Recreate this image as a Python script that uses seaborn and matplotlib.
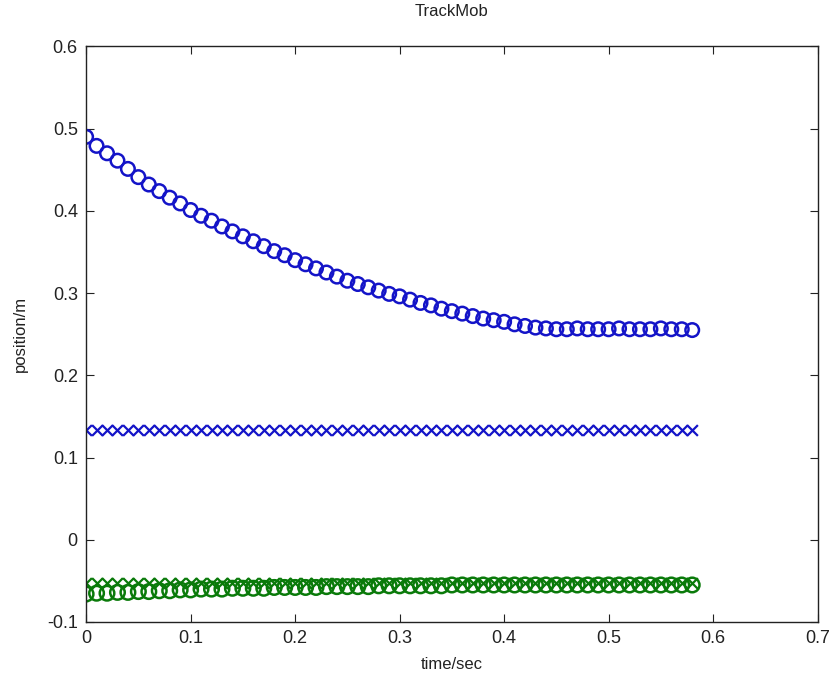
import matplotlib
matplotlib.use("Agg")
import matplotlib.pyplot as plt
import pandas as pd
import seaborn as sns

# time stamps of the tracked frames (sec)
t = [0.00, 0.01, 0.02, 0.03, 0.04, 0.05, 0.06, 0.07, 0.08, 0.09,
     0.10, 0.11, 0.12, 0.13, 0.14, 0.15, 0.16, 0.17, 0.18, 0.19,
     0.20, 0.21, 0.22, 0.23, 0.24, 0.25, 0.26, 0.27, 0.28, 0.29,
     0.30, 0.31, 0.32, 0.33, 0.34, 0.35, 0.36, 0.37, 0.38, 0.39,
     0.40, 0.41, 0.42, 0.43, 0.44, 0.45, 0.46, 0.47, 0.48, 0.49,
     0.50, 0.51, 0.52, 0.53, 0.54, 0.55, 0.56, 0.57, 0.58]

# blue circles: falling position
blue_o = [0.490, 0.479, 0.470, 0.461, 0.451, 0.441, 0.432, 0.424, 0.416, 0.409,
          0.401, 0.394, 0.388, 0.381, 0.375, 0.369, 0.363, 0.357, 0.351, 0.346,
          0.340, 0.335, 0.330, 0.325, 0.320, 0.315, 0.311, 0.307, 0.303, 0.299,
          0.296, 0.292, 0.288, 0.285, 0.281, 0.278, 0.275, 0.272, 0.269, 0.267,
          0.265, 0.262, 0.260, 0.258, 0.257, 0.256, 0.256, 0.257, 0.256, 0.256,
          0.256, 0.257, 0.256, 0.256, 0.256, 0.257, 0.256, 0.256, 0.255]

# blue crosses: constant
blue_x = [0.133] * len(t)

# green circles: slowly rising
green_o = [-0.066, -0.065, -0.065, -0.064, -0.064, -0.063, -0.063, -0.062, -0.062, -0.061,
           -0.061, -0.060, -0.060, -0.060, -0.059, -0.059, -0.059, -0.059, -0.058, -0.058,
           -0.058, -0.058, -0.058, -0.057, -0.057, -0.057, -0.057, -0.057, -0.056, -0.056,
           -0.056, -0.056, -0.056, -0.056, -0.056, -0.055, -0.055, -0.055, -0.055, -0.055,
           -0.055, -0.055, -0.055, -0.055, -0.055, -0.055, -0.055, -0.055, -0.055, -0.055,
           -0.055, -0.055, -0.055, -0.055, -0.055, -0.055, -0.055, -0.055, -0.055]

# green crosses: constant
green_x = [-0.053] * len(t)

xticks = [0, 0.1, 0.2, 0.3, 0.4, 0.5, 0.6, 0.7]
xticklabels = ["0", "0.1", "0.2", "0.3", "0.4", "0.5", "0.6", "0.7"]
yticks = [-0.1, 0, 0.1, 0.2, 0.3, 0.4, 0.5, 0.6]
yticklabels = ["-0.1", "0", "0.1", "0.2", "0.3", "0.4", "0.5", "0.6"]

df = pd.DataFrame({"t": t, "blue_o": blue_o, "blue_x": blue_x,
                   "green_o": green_o, "green_x": green_x})

sns.set_style("ticks")
plt.rcParams["font.family"] = ["Liberation Sans", "DejaVu Sans"]

fig = plt.figure(figsize=(8.36, 6.82), dpi=100)
ax = fig.add_axes([0.103, 0.088, 0.875, 0.844])

blue = "#1414c8"
green = "#0a7a0a"

sns.scatterplot(data=df, x="t", y="blue_x", marker="x", s=60, color=blue,
                linewidth=1.6, ax=ax)
sns.scatterplot(data=df, x="t", y="green_x", marker="x", s=60, color=green,
                linewidth=1.6, ax=ax)
sns.scatterplot(data=df, x="t", y="blue_o", marker="o", s=95, facecolor="none",
                edgecolor=blue, linewidth=1.8, ax=ax)
sns.scatterplot(data=df, x="t", y="green_o", marker="o", s=110, facecolor="none",
                edgecolor=green, linewidth=1.8, ax=ax)

ax.set_xlim(0, 0.7)
ax.set_ylim(-0.1, 0.6)
ax.set_xticks(xticks)
ax.set_xticklabels(xticklabels)
ax.set_yticks(yticks)
ax.set_yticklabels(yticklabels)
ax.tick_params(direction="in", top=True, right=True, labelsize=13, length=6,
               width=0.8, pad=6, colors="#222222")
for sp in ax.spines.values():
    sp.set_visible(True)
    sp.set_linewidth(1.0)
    sp.set_color("#222222")

ax.set_title("TrackMob", fontsize=12, pad=22, color="#222222")
ax.set_xlabel("time/sec", fontsize=12, labelpad=7, color="#222222")
ax.set_ylabel("position/m", fontsize=12, labelpad=14, color="#222222")

fig.savefig("out.png", dpi=100)
